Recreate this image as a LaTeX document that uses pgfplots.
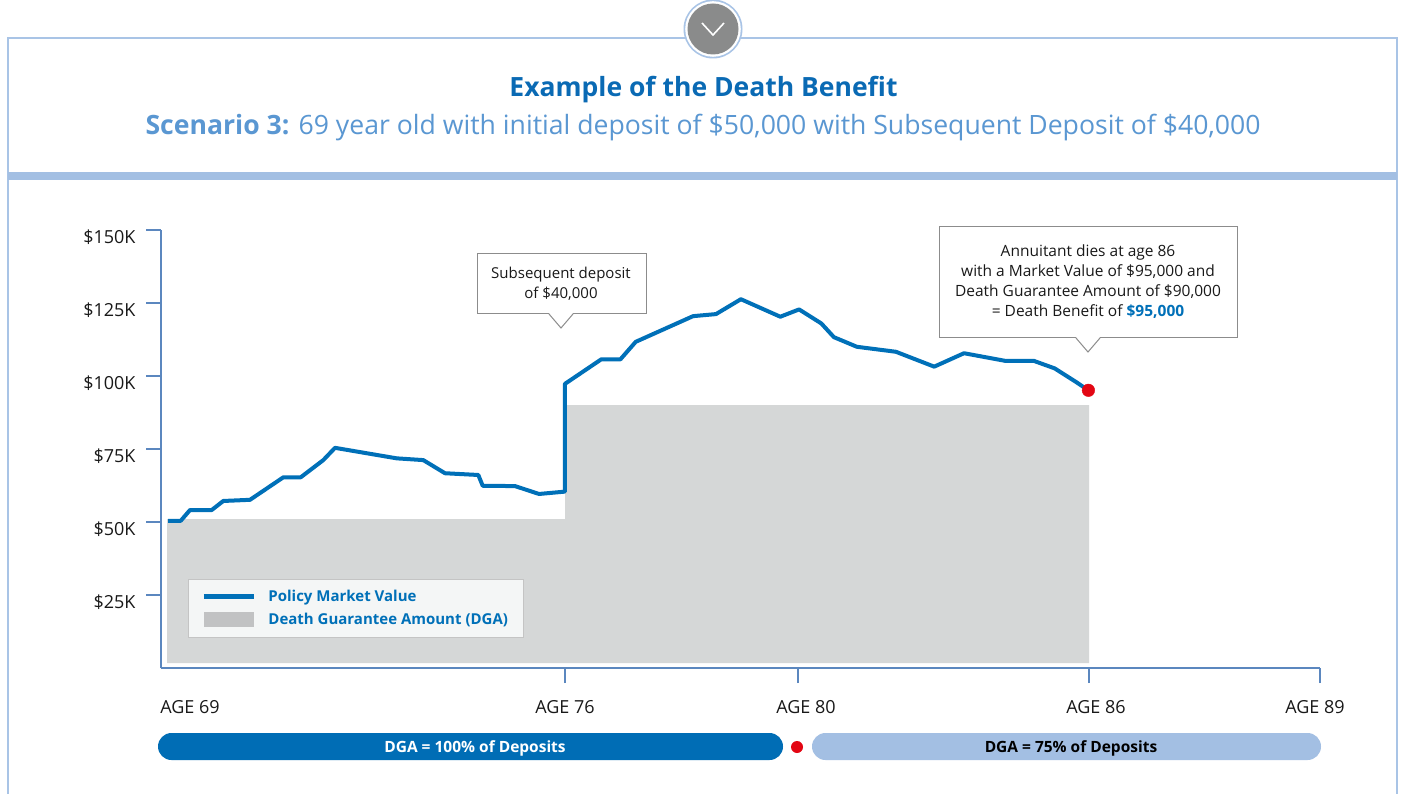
\documentclass[border=0pt]{standalone}
\usepackage{pgfplots}
\usepackage{pgfplotstable}
\pgfplotsset{compat=1.18}
\usepackage{fontspec}
\setmainfont{Open Sans}
\definecolor{titleblue}{HTML}{0A6AB4}
\definecolor{subblue}{HTML}{5A97D2}
\definecolor{frameblue}{HTML}{A9C4E6}
\definecolor{bandblue}{HTML}{A3BFE3}
\definecolor{lineblue}{HTML}{0070B8}
\definecolor{dgagray}{HTML}{D5D7D7}
\definecolor{dgaleg}{HTML}{C1C2C3}
\definecolor{axisblue}{HTML}{5B87BF}
\definecolor{dotred}{HTML}{E30613}
\definecolor{calloutgray}{HTML}{8C8C8C}
\definecolor{legfill}{HTML}{F4F6F6}
\definecolor{legdraw}{HTML}{C4C4C4}
\definecolor{pilldark}{HTML}{006DB5}
\definecolor{circgray}{HTML}{8A8B8B}

% x = horizontal position along the (non-uniform) age scale, y = value in $K
\pgfplotstableread{
x y
7 50.4
19.7 50.4
29 54.1
50.7 54.1
62.3 57.2
89 57.6
122.3 65.3
139.7 65.3
162.3 71.2
174 75.4
235.7 71.8
262.3 71.2
284 66.7
317.3 66.1
321.7 62.4
354 62.3
378 59.6
403.9 60.4
403.9 97.3
440.2 105.7
459.4 105.7
474.7 111.7
532.1 120.5
555 121.2
579.9 126.3
619.3 120.3
638.1 122.8
660.3 118.0
672.9 113.3
695.9 110.0
734.9 108.3
773.2 103.2
803 107.8
844 105.2
872.7 105.2
893.7 102.6
914.8 98.0
927.4 95.1
}\mvtable
\pgfplotstableread{
x y
6 1.7
6 51
404 51
404 90
928 90
928 1.7
}\dgatable

\begin{document}
\begin{tikzpicture}
\begin{scope}[x=1pt,y=-1pt]
\path[use as bounding box] (0,0) rectangle (1403,794);
\fill[white] (0,0) rectangle (1403,794);
\draw[frameblue, line width=1.2pt] (8,800) -- (8,38) -- (1397,38) -- (1397,800);
\fill[bandblue] (8,172.5) rectangle (1397,180);
\fill[frameblue] (713,29) circle (29.5);
\fill[white] (713,29) circle (27.8);
\fill[circgray] (713,29) circle (25.5);
\draw[white, line width=1.6pt, line join=miter] (702,23) -- (713,35) -- (724,23);
\node[text=titleblue, font=\fontsize{26.5}{30}\selectfont\bfseries] at (703.5,90) {Example of the Death Benefit};
\node[text=subblue, font=\fontsize{26.6}{31}\selectfont] at (703,127.5) {\textbf{Scenario 3:} 69 year old with initial deposit of \$50,000 with Subsequent Deposit of \$40,000};
\end{scope}

\begin{axis}[
  at={(161pt,-668pt)}, anchor=south west,
  scale only axis, width=1159pt, height=438pt,
  xmin=0, xmax=1159, ymin=0, ymax=150,
  axis x line=bottom, axis y line=left,
  axis line style={-, draw=axisblue, line width=1.3pt},
  tick style={draw=axisblue, line width=1.3pt},
  tick align=outside, major tick length=15pt,
  xtick={404,637,928,1159},
  xticklabels={AGE 76, \hspace*{16pt}AGE 80, \hspace*{14pt}AGE 86, AGE 89\hspace*{10pt}},
  extra x ticks={0}, extra x tick labels={AGE 69},
  extra x tick style={major tick length=0pt, tick label style={xshift=29pt, yshift=-15pt}},
  x tick label style={yshift=-14pt},
  y tick label style={xshift=-7pt, yshift=-7pt},
  ytick={25,50,75,100,125,150},
  yticklabels={\$25K,\$50K,\$75K,\$100K,\$125K,\$150K},
  ticklabel style={font=\fontsize{18}{21}\selectfont, text=black!90},
  clip=false,
  reverse legend,
  legend cell align=left,
  legend style={at={(axis description cs:0.0233,0.2033)}, anchor=north west,
    fill=legfill, draw=legdraw, line width=0.8pt,
    font=\fontsize{15}{18}\selectfont\bfseries,
    inner xsep=13pt, inner ysep=9pt, row sep=6pt,
    /tikz/every odd column/.append style={column sep=10pt}},
]
\addplot[fill=dgagray, draw=none,
  legend image code/.code={\fill[dgaleg] (0pt,-7.5pt) rectangle (50pt,7.5pt);}]
  table {\dgatable};
\addlegendentry{\textcolor{lineblue}{Death Guarantee Amount (DGA)}}
\addplot[lineblue, line width=4pt, line join=round,
  legend image code/.code={\draw[lineblue, line width=5pt] (0pt,0pt) -- (50pt,0pt);}]
  table {\mvtable};
\addlegendentry{\textcolor{lineblue}{Policy Market Value}}
\addplot[only marks, mark=*, mark size=6.3pt, color=dotred, forget plot]
  coordinates {(927.4,95.1)};
\end{axis}

\begin{scope}[x=1pt,y=-1pt]
% callout 1
\draw[calloutgray, line width=1pt, fill=white] (477,254) rectangle (646,314);
\fill[white] (549,313) -- (561,328) -- (573,313) -- cycle;
\draw[calloutgray, line width=1pt] (549,314) -- (561,328) -- (573,314);
\node[align=center, font=\fontsize{15}{20}\selectfont, text=black!90] at (561,284) {Subsequent deposit\\of \$40,000};
% callout 2
\draw[calloutgray, line width=1pt, fill=white] (939,227) rectangle (1237,338);
\fill[white] (1076,337) -- (1088,352) -- (1100,337) -- cycle;
\draw[calloutgray, line width=1pt] (1076,338) -- (1088,352) -- (1100,338);
\node[align=center, font=\fontsize{15.5}{20}\selectfont, text=black!90] at (1088,282) {Annuitant dies at age 86\\with a Market Value of \$95,000 and\\Death Guarantee Amount of \$90,000\\= Death Benefit of {\color{lineblue}\bfseries\$95,000}};
% bottom pills
\fill[pilldark, rounded corners=13.5pt] (158,733) rectangle (783,760);
\node[text=white, font=\fontsize{15.5}{18}\selectfont\bfseries] at (475,748) {DGA = 100\% of Deposits};
\fill[dotred] (797,747) circle (6);
\fill[bandblue, rounded corners=13.5pt] (812,733) rectangle (1321,760);
\node[text=black, font=\fontsize{15.5}{18}\selectfont\bfseries] at (1071,748) {DGA = 75\% of Deposits};
\end{scope}
\end{tikzpicture}
\end{document}
